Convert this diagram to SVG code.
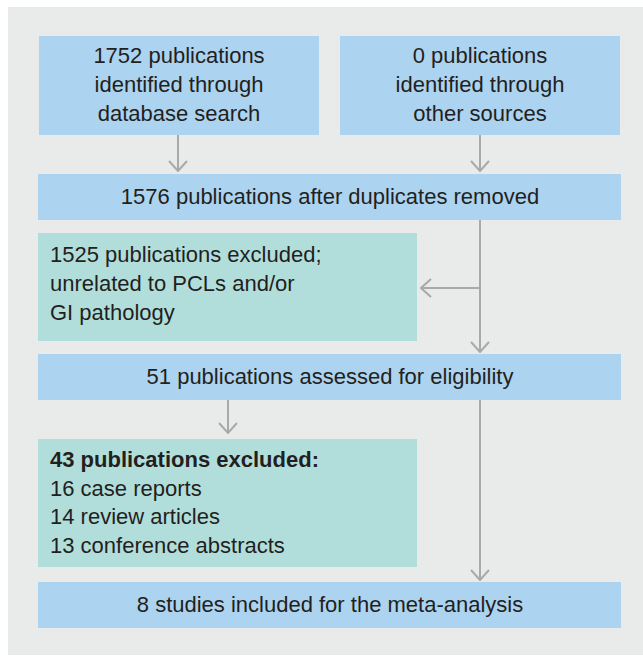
<svg xmlns="http://www.w3.org/2000/svg" width="643" height="657" viewBox="0 0 643 657">
<defs>
<style>
.blue{fill:#acd3ef}
.teal{fill:#b1dedb}
text{font-family:"Liberation Sans",Arial,sans-serif;font-size:22px;fill:#231f20}
.c{text-anchor:middle}
.b{font-weight:bold}
.ln{stroke:#a9a9a9;stroke-width:2;fill:none}
</style>
<marker id="ah" viewBox="0 0 12 20" refX="11" refY="10" markerWidth="12" markerHeight="20" markerUnits="userSpaceOnUse" orient="auto">
<path d="M1,1 L11,10 L1,19" fill="none" stroke="#a9a9a9" stroke-width="2"/>
</marker>
</defs>
<rect x="8" y="7" width="635" height="648" fill="#e9ebeb"/>
<g id="connectors">
<line class="ln" x1="178" y1="135" x2="178" y2="171" marker-end="url(#ah)"/>
<line class="ln" x1="480" y1="135" x2="480" y2="171" marker-end="url(#ah)"/>
<line class="ln" x1="480" y1="220" x2="480" y2="352" marker-end="url(#ah)"/>
<line class="ln" x1="480" y1="288" x2="421" y2="288" marker-end="url(#ah)"/>
<line class="ln" x1="228" y1="400" x2="228" y2="433" marker-end="url(#ah)"/>
<line class="ln" x1="480" y1="400" x2="480" y2="580" marker-end="url(#ah)"/>
</g>
<g id="n1">
<rect class="blue" x="39" y="36" width="280" height="99"/>
<text class="c" x="179" y="63">1752 publications</text>
<text class="c" x="179" y="92">identified through</text>
<text class="c" x="179" y="121">database search</text>
</g>
<g id="n2">
<rect class="blue" x="340" y="36" width="280" height="99"/>
<text class="c" x="480" y="63">0 publications</text>
<text class="c" x="480" y="92">identified through</text>
<text class="c" x="480" y="121">other sources</text>
</g>
<g id="n3">
<rect class="blue" x="38" y="174" width="583" height="46"/>
<text class="c" x="330" y="204">1576 publications after duplicates removed</text>
</g>
<g id="n4">
<rect class="teal" x="38" y="233" width="379" height="108"/>
<text x="50" y="262">1525 publications excluded;</text>
<text x="50" y="291">unrelated to PCLs and/or</text>
<text x="50" y="320">GI pathology</text>
</g>
<g id="n5">
<rect class="blue" x="38" y="354" width="583" height="46"/>
<text class="c" x="330" y="384">51 publications assessed for eligibility</text>
</g>
<g id="n6">
<rect class="teal" x="38" y="439" width="379" height="128"/>
<text class="b" x="50" y="467">43 publications excluded:</text>
<text x="50" y="496">16 case reports</text>
<text x="50" y="524">14 review articles</text>
<text x="50" y="553">13 conference abstracts</text>
</g>
<g id="n7">
<rect class="blue" x="38" y="582" width="583" height="46"/>
<text class="c" x="330" y="612">8 studies included for the meta-analysis</text>
</g>
</svg>
